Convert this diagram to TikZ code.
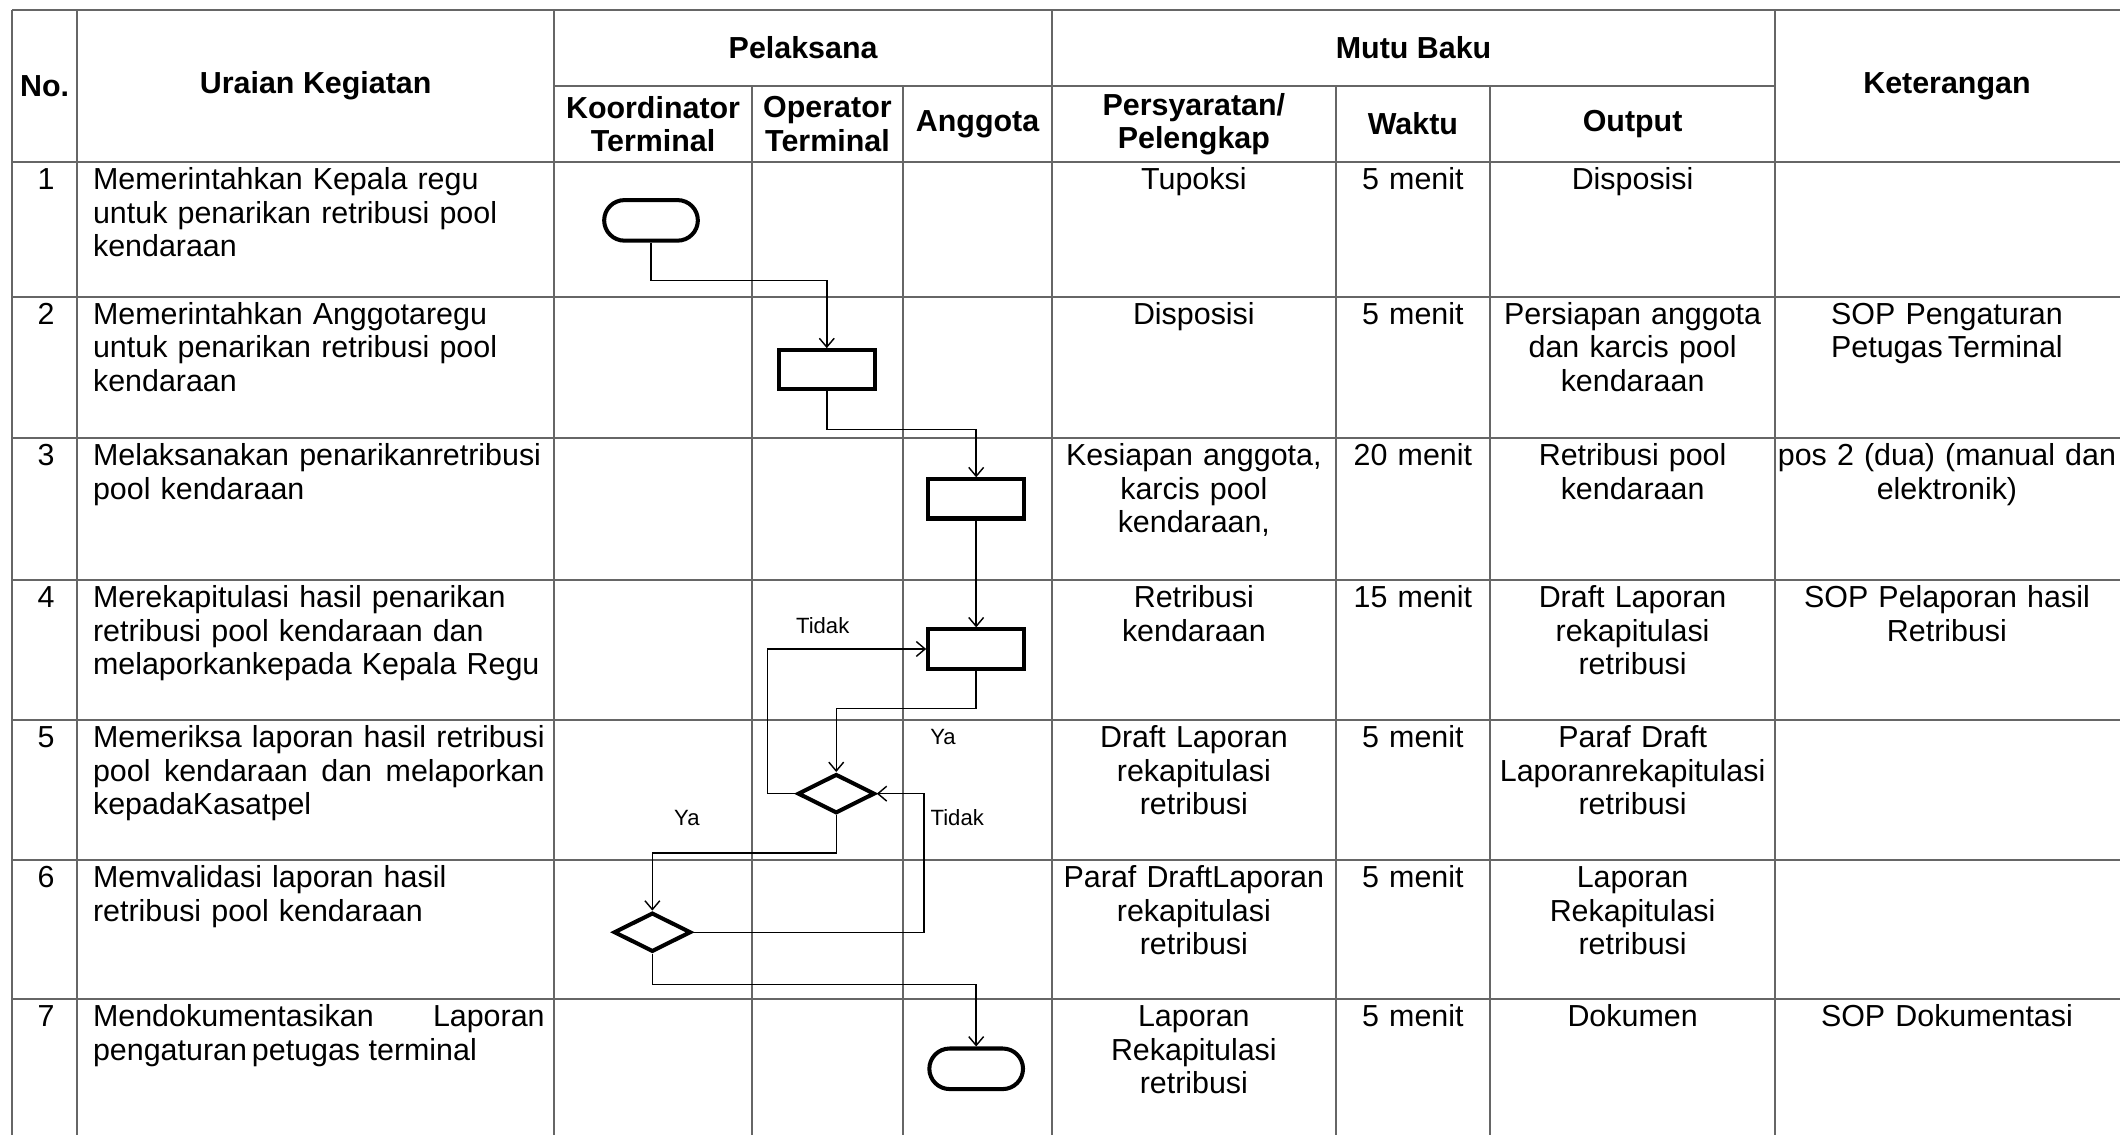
\documentclass[tikz,border=0pt]{standalone}
\usepackage{fontspec}
\setmainfont{Liberation Sans}
\usetikzlibrary{arrows.meta,shapes.geometric,shapes.misc}

\begin{document}
\begin{tikzpicture}[
  font=\fontsize{12.8}{14.1}\selectfont,
  garis/.style={draw=black!60, line width=0.8pt},
  terminal/.style={draw, rounded rectangle, line width=1.7pt,
                   minimum width=1.62cm, minimum height=0.6cm},
  proses/.style={draw, rectangle, line width=1.7pt,
                 minimum width=1.42cm, minimum height=0.58cm},
  keputusan/.style={draw, diamond, line width=1.7pt, inner sep=0pt,
                    minimum width=1.14cm, minimum height=0.58cm},
  alur/.style={-{Straight Barb[length=1.3mm, width=2.2mm]}, line width=0.6pt},
  judul/.style={font=\fontsize{12.8}{14.1}\selectfont\bfseries,
                align=center, inner sep=0pt},
  isi/.style={anchor=base, text width=#1, align=center, inner sep=0pt},
  uraian/.style={anchor=base west, text width=6.68cm, align=left, inner sep=0pt},
  ket/.style={font=\fontsize{9.3}{11}\selectfont, inner sep=0pt},
]
  \useasboundingbox[fill=white] (0,0) rectangle (31.36,-16.78);

  % garis tabel
  \draw[garis] (0.18,-0.148) -- (31.5,-0.148);
  \draw[garis] (8.2,-1.27) -- (26.26,-1.27);
  \foreach \y in {2.40,4.39,6.48,8.58,10.65,12.72,14.78}
    \draw[garis] (0.18,-\y) -- (31.5,-\y);
  \foreach \x in {0.18,1.14,8.2,15.56,26.26,31.5}
    \draw[garis] (\x,-0.148) -- (\x,-16.9);
  \foreach \x in {11.12,13.36,19.76,22.04}
    \draw[garis] (\x,-1.27) -- (\x,-16.9);

  % kepala tabel
  \node[judul] (hno)  at (0.66,-1.27)   {No.};
  \node[judul] (hur)  at (4.67,-1.27)   {Uraian Kegiatan};
  \node[judul] (hpl)  at (11.88,-0.71)  {Pelaksana};
  \node[judul] (hmb)  at (20.91,-0.71)  {Mutu Baku};
  \node[judul] (hket) at (28.8,-1.27)   {Keterangan};
  \node[judul] (hko)  at (9.66,-1.835)  {Koordinator\\Terminal};
  \node[judul] (hop)  at (12.24,-1.835) {Operator\\Terminal};
  \node[judul] (hang) at (14.46,-1.835) {Anggota};
  \node[judul] (hps)  at (17.66,-1.835) {Persyaratan/\\Pelengkap};
  \node[judul] (hwk)  at (20.9,-1.835)  {Waktu};
  \node[judul] (hout) at (24.15,-1.835) {Output};

  % nomor
  \foreach \n/\y in {1/2.81,2/4.80,3/6.89,4/8.99,5/11.06,6/13.13,7/15.19}
    \node[anchor=base, inner sep=0pt] (no\n) at (0.68,-\y) {\n};

  % baris 1
  \node[uraian] (ur1) at (1.37,-2.81)
    {Memerintahkan Kepala regu\\untuk penarikan retribusi pool\\kendaraan};
  \node[isi=4.1cm] (ps1) at (17.66,-2.81) {Tupoksi};
  \node[isi=2.2cm] (wk1) at (20.9,-2.81)  {5 menit};
  \node[isi=4.2cm] (ou1) at (24.15,-2.81) {Disposisi};

  % baris 2
  \node[uraian] (ur2) at (1.37,-4.80)
    {Memerintahkan Anggotaregu\\untuk penarikan retribusi pool\\kendaraan};
  \node[isi=4.1cm] (ps2) at (17.66,-4.80) {Disposisi};
  \node[isi=2.2cm] (wk2) at (20.9,-4.80)  {5 menit};
  \node[isi=4.2cm] (ou2) at (24.15,-4.80)
    {Persiapan anggota\\dan karcis pool\\kendaraan};
  \node[isi=5.2cm] (kt2) at (28.8,-4.80)
    {SOP Pengaturan\\Petugas\,Terminal};

  % baris 3
  \node[uraian] (ur3) at (1.37,-6.89)
    {Melaksanakan penarikanretribusi\\pool kendaraan};
  \node[isi=4.1cm] (ps3) at (17.66,-6.89)
    {Kesiapan anggota,\\karcis pool\\kendaraan,};
  \node[isi=2.2cm] (wk3) at (20.9,-6.89)  {20 menit};
  \node[isi=4.2cm] (ou3) at (24.15,-6.89) {Retribusi pool\\kendaraan};
  \node[isi=5.2cm] (kt3) at (28.8,-6.89)
    {pos 2 (dua) (manual dan\\elektronik)};

  % baris 4
  \node[uraian] (ur4) at (1.37,-8.99)
    {Merekapitulasi hasil penarikan\\retribusi pool kendaraan dan\\melaporkankepada Kepala Regu};
  \node[isi=4.1cm] (ps4) at (17.66,-8.99) {Retribusi\\kendaraan};
  \node[isi=2.2cm] (wk4) at (20.9,-8.99)  {15 menit};
  \node[isi=4.2cm] (ou4) at (24.15,-8.99)
    {Draft Laporan\\rekapitulasi\\retribusi};
  \node[isi=5.2cm] (kt4) at (28.8,-8.99)
    {SOP Pelaporan hasil\\Retribusi};

  % baris 5
  \node[uraian, align=justify] (ur5) at (1.37,-11.06)
    {Memeriksa laporan hasil retribusi\linebreak
     pool kendaraan dan melaporkan\linebreak
     kepadaKasatpel};
  \node[isi=4.1cm] (ps5) at (17.66,-11.06)
    {Draft Laporan\\rekapitulasi\\retribusi};
  \node[isi=2.2cm] (wk5) at (20.9,-11.06)  {5 menit};
  \node[isi=4.2cm] (ou5) at (24.15,-11.06)
    {Paraf Draft\\Laporanrekapitulasi\\retribusi};

  % baris 6
  \node[uraian] (ur6) at (1.37,-13.13)
    {Memvalidasi laporan hasil\\retribusi pool kendaraan};
  \node[isi=4.1cm] (ps6) at (17.66,-13.13)
    {Paraf DraftLaporan\\rekapitulasi\\retribusi};
  \node[isi=2.2cm] (wk6) at (20.9,-13.13)  {5 menit};
  \node[isi=4.2cm] (ou6) at (24.15,-13.13)
    {Laporan\\Rekapitulasi\\retribusi};

  % baris 7
  \node[uraian, align=justify] (ur7) at (1.37,-15.19)
    {Mendokumentasikan Laporan\linebreak
     pengaturan\,petugas terminal};
  \node[isi=4.1cm] (ps7) at (17.66,-15.19)
    {Laporan\\Rekapitulasi\\retribusi};
  \node[isi=2.2cm] (wk7) at (20.9,-15.19)  {5 menit};
  \node[isi=4.2cm] (ou7) at (24.15,-15.19) {Dokumen};
  \node[isi=5.2cm] (kt7) at (28.8,-15.19)  {SOP Dokumentasi};

  % simbol alur
  \node[terminal]  (mulai)    at (9.63,-3.26)   {};
  \node[proses]    (perintah) at (12.23,-5.47)  {};
  \node[proses]    (tarik)    at (14.44,-7.38)  {};
  \node[proses]    (rekap)    at (14.44,-9.60)  {};
  \node[keputusan] (periksa)  at (12.37,-11.74) {};
  \node[keputusan] (validasi) at (9.65,-13.79)  {};
  \node[terminal]  (selesai)  at (14.44,-15.81) {};

  \draw[alur] (mulai.south) -- ++(0,-0.56) -| (perintah.north);
  \draw[alur] (perintah.south) -- ++(0,-0.56) -| (tarik.north);
  \draw[alur] (tarik.south) -- (rekap.north);
  \draw[alur] (rekap.south) -- ++(0,-0.56) -| (periksa.north);
  \draw[alur] (periksa.west) -- ++(-0.42,0) |- (rekap.west);
  \draw[alur] (periksa.south) -- ++(0,-0.56) -| (validasi.north);
  \draw[alur] (validasi.east) -| ([xshift=0.7cm]periksa.east) -- (periksa.east);
  \draw[alur] (validasi.south) -- ++(0,-0.45) -| (selesai.north);

  \node[ket] (tidak1) at (12.17,-9.26)  {Tidak};
  \node[ket] (ya1)    at (13.95,-10.90) {Ya};
  \node[ket] (ya2)    at (10.16,-12.10) {Ya};
  \node[ket] (tidak2) at (14.16,-12.10) {Tidak};
\end{tikzpicture}
\end{document}
